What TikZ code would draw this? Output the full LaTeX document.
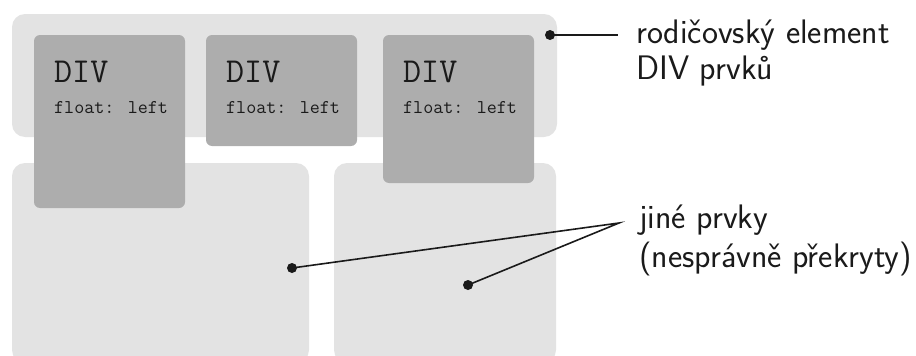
\documentclass[tikz,border=0pt]{standalone}
\begin{document}
\begin{tikzpicture}[x=1pt,y=-1pt,
  light/.style={fill=boxlight,draw=none,rounded corners=13pt,inner sep=0,outer sep=0,anchor=north west},
  dark/.style={fill=boxdark,draw=none,rounded corners=6pt,inner sep=0,outer sep=0,anchor=north west},
  bigtt/.style={font=\ttfamily\fontsize{35}{38}\selectfont,text=txt,inner sep=0,anchor=base west},
  smalltt/.style={font=\ttfamily\fontsize{19.5}{22}\selectfont,text=txt,inner sep=0,anchor=base west},
  lbl/.style={font=\sffamily\fontsize{34}{38}\selectfont,text=txt,inner sep=0,anchor=base west},
  conn/.style={draw=txt,line width=1.6pt},
  dot/.style={circle,fill=txt,inner sep=0,minimum size=10pt}]
\definecolor{boxlight}{HTML}{E3E3E3}
\definecolor{boxdark}{HTML}{ADADAD}
\definecolor{txt}{HTML}{1A1A1A}
\useasboundingbox (0,0) rectangle (916,356);
% parent
\node[light,minimum width=545pt,minimum height=123pt] (parent) at (12,14) {};
% lower elements
\node[light,minimum width=297pt,minimum height=200pt] (lowL) at (12,163) {};
\node[light,minimum width=222pt,minimum height=200pt] (lowR) at (334,163) {};
% floats
\node[dark,minimum width=151pt,minimum height=173pt] (f1) at (34,35) {};
\node[dark,minimum width=151pt,minimum height=111pt] (f2) at (206,35) {};
\node[dark,minimum width=151pt,minimum height=148pt] (f3) at (383,35) {};
\node[bigtt] (t1) at (54,82) {DIV};
\node[smalltt] (s1) at (54,113) {float: left};
\node[bigtt] (t2) at (226,82) {DIV};
\node[smalltt] (s2) at (226,113) {float: left};
\node[bigtt] (t3) at (403,82) {DIV};
\node[smalltt] (s3) at (403,113) {float: left};
% labels
\node[lbl] (la) at (636,43) {rodičovský element};
\node[lbl] (lb) at (636,79) {DIV prvků};
\node[lbl] (lc) at (639,228) {jiné prvky};
\node[lbl] (ld) at (639,267) {(nesprávně překryty)};
% connectors
\node[dot] (d1) at (550,35) {};
\coordinate (e1) at (618,35);
\draw[conn] (d1.center) -- (e1);
\node[dot] (d2) at (292,268) {};
\node[dot] (d3) at (468,285) {};
\coordinate (e2) at (619,223);
\draw[conn] (d2.center) -- (e2) -- (d3.center);
\end{tikzpicture}
\end{document}
